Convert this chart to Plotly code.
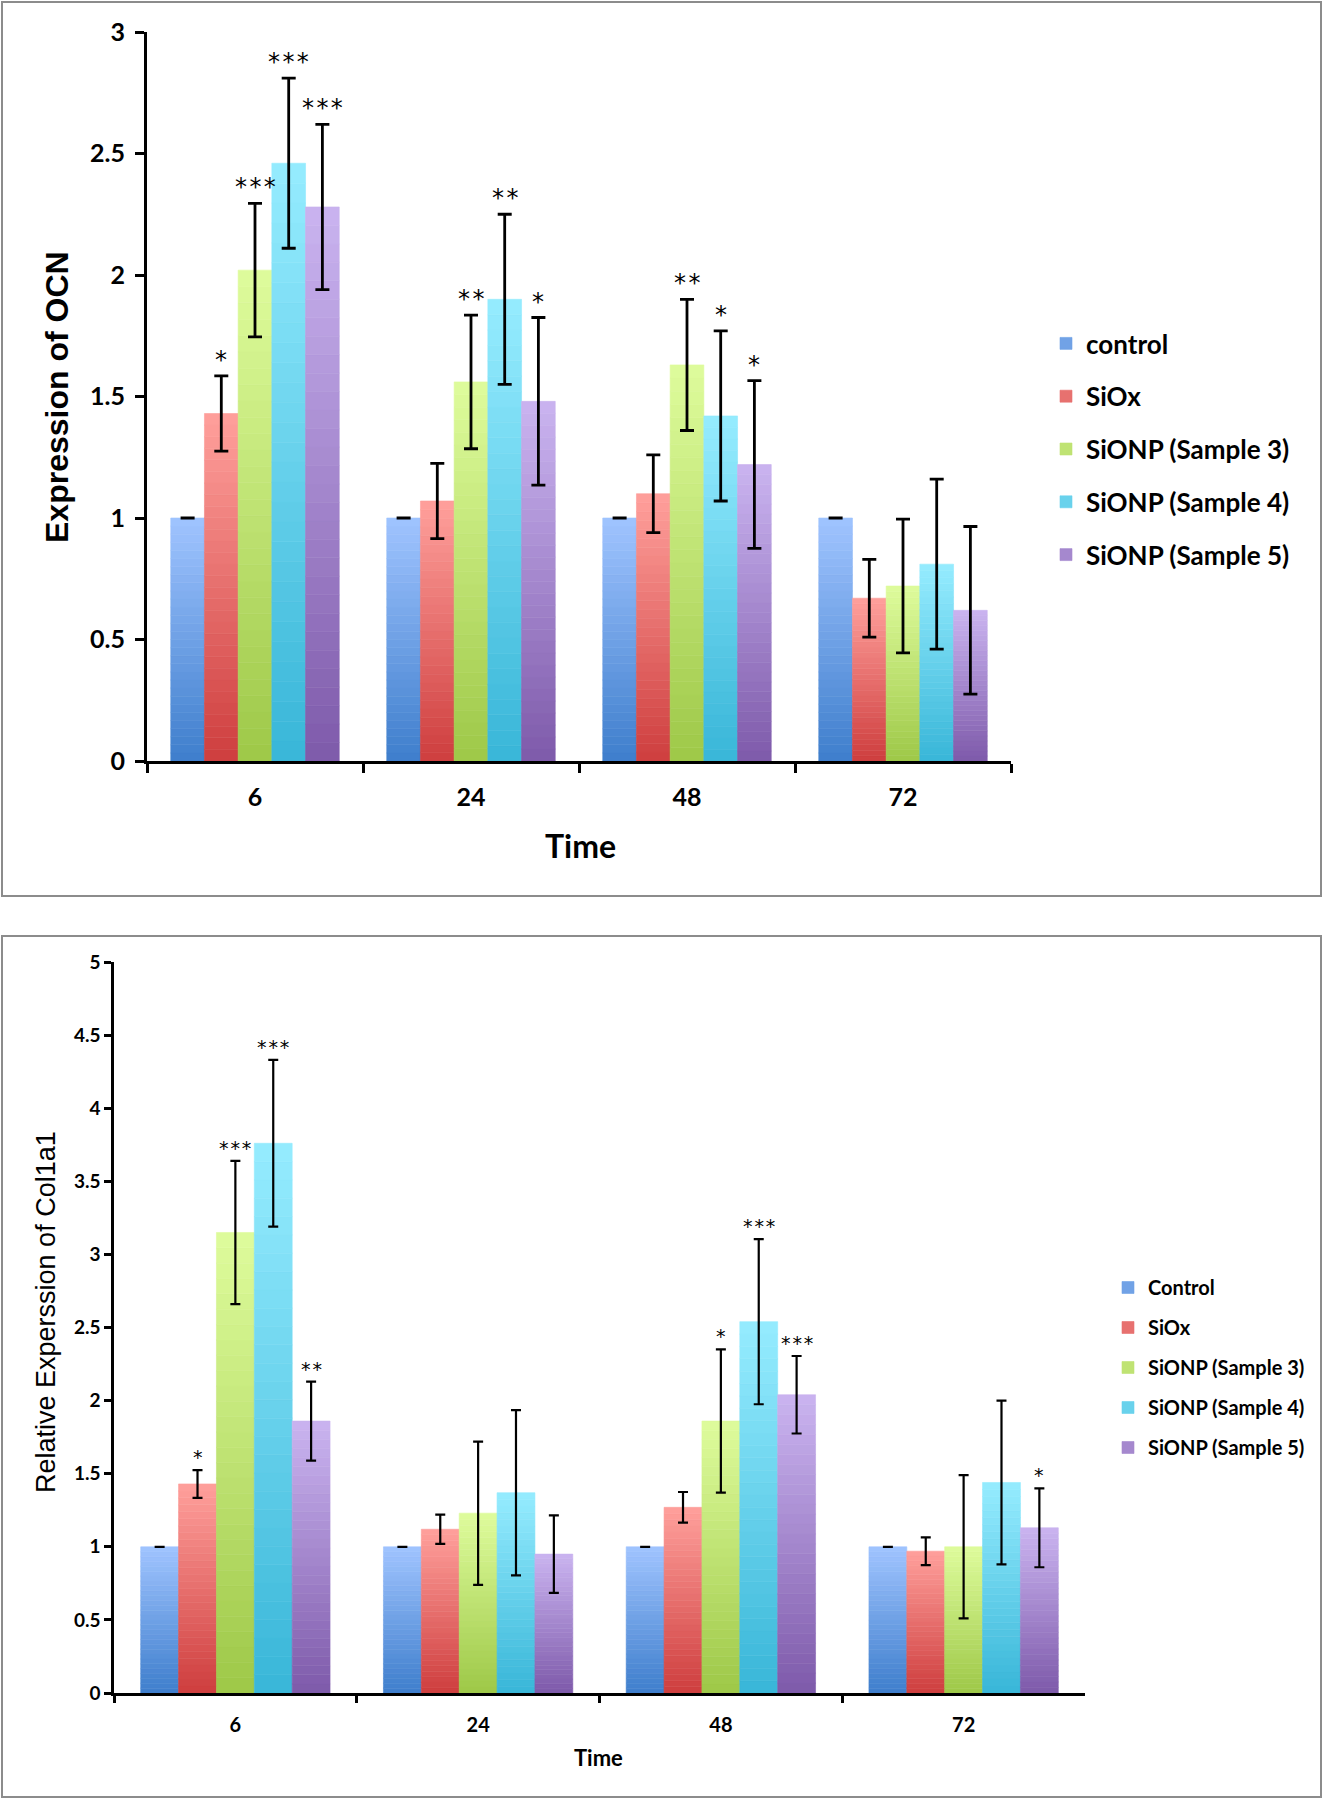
import plotly.graph_objects as go

# ---------------- data ----------------
times = ["6", "24", "48", "72"]
series_top = ["control", "SiOx", "SiONP (Sample 3)", "SiONP (Sample 4)", "SiONP (Sample 5)"]
series_bot = ["Control", "SiOx", "SiONP (Sample 3)", "SiONP (Sample 4)", "SiONP (Sample 5)"]

# OCN expression (top chart), per series across times 6, 24, 48, 72
ocn_control = [1.00, 1.00, 1.00, 1.00]
ocn_siox = [1.43, 1.07, 1.10, 0.67]
ocn_s3 = [2.02, 1.56, 1.63, 0.72]
ocn_s4 = [2.46, 1.90, 1.42, 0.81]
ocn_s5 = [2.28, 1.48, 1.22, 0.62]
ocn_err_control = [0.0, 0.0, 0.0, 0.0]
ocn_err_siox = [0.155, 0.155, 0.16, 0.16]
ocn_err_s3 = [0.275, 0.275, 0.27, 0.275]
ocn_err_s4 = [0.35, 0.35, 0.35, 0.35]
ocn_err_s5 = [0.34, 0.345, 0.345, 0.345]
ocn_sig_control = ["", "", "", ""]
ocn_sig_siox = ["*", "", "", ""]
ocn_sig_s3 = ["***", "**", "**", ""]
ocn_sig_s4 = ["***", "**", "*", ""]
ocn_sig_s5 = ["***", "*", "*", ""]

# Col1a1 relative expression (bottom chart)
col_control = [1.00, 1.00, 1.00, 1.00]
col_siox = [1.43, 1.12, 1.27, 0.97]
col_s3 = [3.15, 1.23, 1.86, 1.00]
col_s4 = [3.76, 1.37, 2.54, 1.44]
col_s5 = [1.86, 0.95, 2.04, 1.13]
col_err_control = [0.0, 0.0, 0.0, 0.0]
col_err_siox = [0.095, 0.10, 0.105, 0.095]
col_err_s3 = [0.49, 0.49, 0.49, 0.49]
col_err_s4 = [0.57, 0.565, 0.565, 0.56]
col_err_s5 = [0.27, 0.265, 0.265, 0.27]
col_sig_control = ["", "", "", ""]
col_sig_siox = ["*", "", "", ""]
col_sig_s3 = ["***", "", "*", ""]
col_sig_s4 = ["***", "", "***", ""]
col_sig_s5 = ["**", "", "***", "*"]

# gradient colours (bottom dark -> top light)
dark_cols = [(62, 126, 204), (206, 62, 62), (158, 200, 72), (56, 182, 216), (126, 90, 170)]
light_cols = [(160, 196, 255), (255, 160, 156), (222, 252, 156), (150, 236, 255), (202, 180, 240)]

NSEG = 30
BARGAP = 0.22


def lerp(c1, c2, t):
    return "rgb(%d,%d,%d)" % tuple(round(a + (b - a) * t) for a, b in zip(c1, c2))


fig = go.Figure()


def add_chart(xa, ya, names, values, errs, sigs, legend, err_w, err_th, sig_size):
    nser = len(names)
    for s, (name, vals) in enumerate(zip(names, values)):
        for k in range(NSEG):
            t = (k + 0.5) / NSEG
            col = lerp(dark_cols[s], light_cols[s], t)
            fig.add_trace(go.Bar(
                x=times, y=[v / NSEG for v in vals], base=[v * k / NSEG for v in vals],
                xaxis=xa, yaxis=ya, offsetgroup=str(s),
                marker=dict(color=col, line=dict(color=col, width=0.6)),
                name=name, legendgroup=name + legend, legend=legend,
                showlegend=(k == NSEG // 2), hoverinfo="skip",
            ))
    for s, (name, vals) in enumerate(zip(names, values)):
        fig.add_trace(go.Bar(
            x=times, y=vals, xaxis=xa, yaxis=ya, offsetgroup=str(s),
            marker=dict(color="rgba(0,0,0,0)", line=dict(width=0)),
            error_y=dict(type="data", array=errs[s], visible=True, color="black",
                         thickness=err_th, width=err_w),
            showlegend=False, legend=legend, name=name, hoverinfo="skip",
        ))
    # significance marks, centred over each bar of the group
    bw = (1 - BARGAP) / nser
    for s in range(nser):
        for i in range(len(times)):
            if sigs[s][i]:
                fig.add_annotation(
                    x=i - (1 - BARGAP) / 2 + bw * (s + 0.5), y=values[s][i] + errs[s][i],
                    xref=xa, yref=ya, text="\u200a".join(sigs[s][i]),
                    showarrow=False, xanchor="center", yanchor="bottom",
                    font=dict(family="DejaVu Sans", size=sig_size, color="black"),
                )


add_chart("x", "y", series_top,
          [ocn_control, ocn_siox, ocn_s3, ocn_s4, ocn_s5],
          [ocn_err_control, ocn_err_siox, ocn_err_s3, ocn_err_s4, ocn_err_s5],
          [ocn_sig_control, ocn_sig_siox, ocn_sig_s3, ocn_sig_s4, ocn_sig_s5],
          "legend", 7, 2.8, 24)
add_chart("x2", "y2", series_bot,
          [col_control, col_siox, col_s3, col_s4, col_s5],
          [col_err_control, col_err_siox, col_err_s3, col_err_s4, col_err_s5],
          [col_sig_control, col_sig_siox, col_sig_s3, col_sig_s4, col_sig_s5],
          "legend2", 5, 2.2, 19)

W, H = 1323, 1800

fig.update_layout(
    width=W, height=H, margin=dict(l=0, r=0, t=0, b=0, pad=0, autoexpand=False),
    paper_bgcolor="white", plot_bgcolor="white",
    barmode="group", bargap=BARGAP, bargroupgap=0.0,
    xaxis=dict(domain=[147 / W, 1011 / W], anchor="y", type="category",
               range=[-0.5, 3.5], showline=True, linecolor="black", linewidth=3,
               ticks="outside", tickson="boundaries", ticklen=9, tickwidth=3, tickcolor="black",
               ticklabelstandoff=12,
               tickfont=dict(family="Lato", size=25, color="black", weight="bold"),
               showgrid=False, zeroline=False),
    yaxis=dict(domain=[1 - 761 / H, 1 - 32 / H], anchor="x", range=[0, 3], dtick=0.5,
               showline=True, linecolor="black", linewidth=3,
               ticks="outside", ticklen=9, tickwidth=3, tickcolor="black",
               ticklabelstandoff=5,
               tickfont=dict(family="Lato", size=25, color="black", weight="bold"),
               showgrid=False, zeroline=False),
    xaxis2=dict(domain=[114 / W, 1085 / W], anchor="y2", type="category",
                range=[-0.5, 3.5], showline=True, linecolor="black", linewidth=2.5,
                ticks="outside", tickson="boundaries", ticklen=7, tickwidth=2.5, tickcolor="black",
                ticklabelstandoff=12,
                tickfont=dict(family="Lato", size=20, color="black", weight="bold"),
                showgrid=False, zeroline=False),
    yaxis2=dict(domain=[1 - 1693 / H, 1 - 962 / H], anchor="x2", range=[0, 5], dtick=0.5,
                showline=True, linecolor="black", linewidth=2.5,
                ticks="outside", ticklen=7, tickwidth=2.5, tickcolor="black",
                tickfont=dict(family="Lato", size=19, color="black", weight="bold"),
                showgrid=False, zeroline=False),
    legend=dict(x=1046 / W, y=1 - 320 / H, xanchor="left", yanchor="top",
                font=dict(family="Lato", size=26, color="black", weight="bold"),
                tracegroupgap=16, bgcolor="rgba(0,0,0,0)"),
    legend2=dict(x=1108 / W, y=1 - 1268 / H, xanchor="left", yanchor="top",
                 font=dict(family="Lato", size=20, color="black", weight="bold"),
                 tracegroupgap=11, bgcolor="rgba(0,0,0,0)"),
    showlegend=True,
)

# axis titles
fig.add_annotation(x=580 / W, y=1 - 845 / H, xref="paper", yref="paper", text="Time",
                   showarrow=False, xanchor="center", yanchor="middle",
                   font=dict(family="Lato", size=32, color="black", weight="bold"))
fig.add_annotation(x=57 / W, y=1 - 397 / H, xref="paper", yref="paper", text="Expression of OCN",
                   textangle=-90, showarrow=False, xanchor="center", yanchor="middle",
                   font=dict(family="Liberation Sans", size=32, color="black", weight="bold"))
fig.add_annotation(x=598 / W, y=1 - 1757 / H, xref="paper", yref="paper", text="Time",
                   showarrow=False, xanchor="center", yanchor="middle",
                   font=dict(family="Lato", size=22, color="black", weight="bold"))
fig.add_annotation(x=46 / W, y=1 - 1312 / H, xref="paper", yref="paper",
                   text="Relative Experssion of Col1a1", textangle=-90, showarrow=False,
                   xanchor="center", yanchor="middle",
                   font=dict(family="Liberation Sans", size=27, color="black"))

# panel borders
fig.add_shape(type="rect", xref="paper", yref="paper", x0=2 / W, x1=1321 / W,
              y0=1 - 896 / H, y1=1 - 2 / H, line=dict(color="#8c8c8c", width=2))
fig.add_shape(type="rect", xref="paper", yref="paper", x0=2 / W, x1=1321 / W,
              y0=1 - 1797 / H, y1=1 - 936 / H, line=dict(color="#8c8c8c", width=2))

fig.write_html("out.html", config={"displayModeBar": False},
               post_script="document.body.style.margin='0';")
